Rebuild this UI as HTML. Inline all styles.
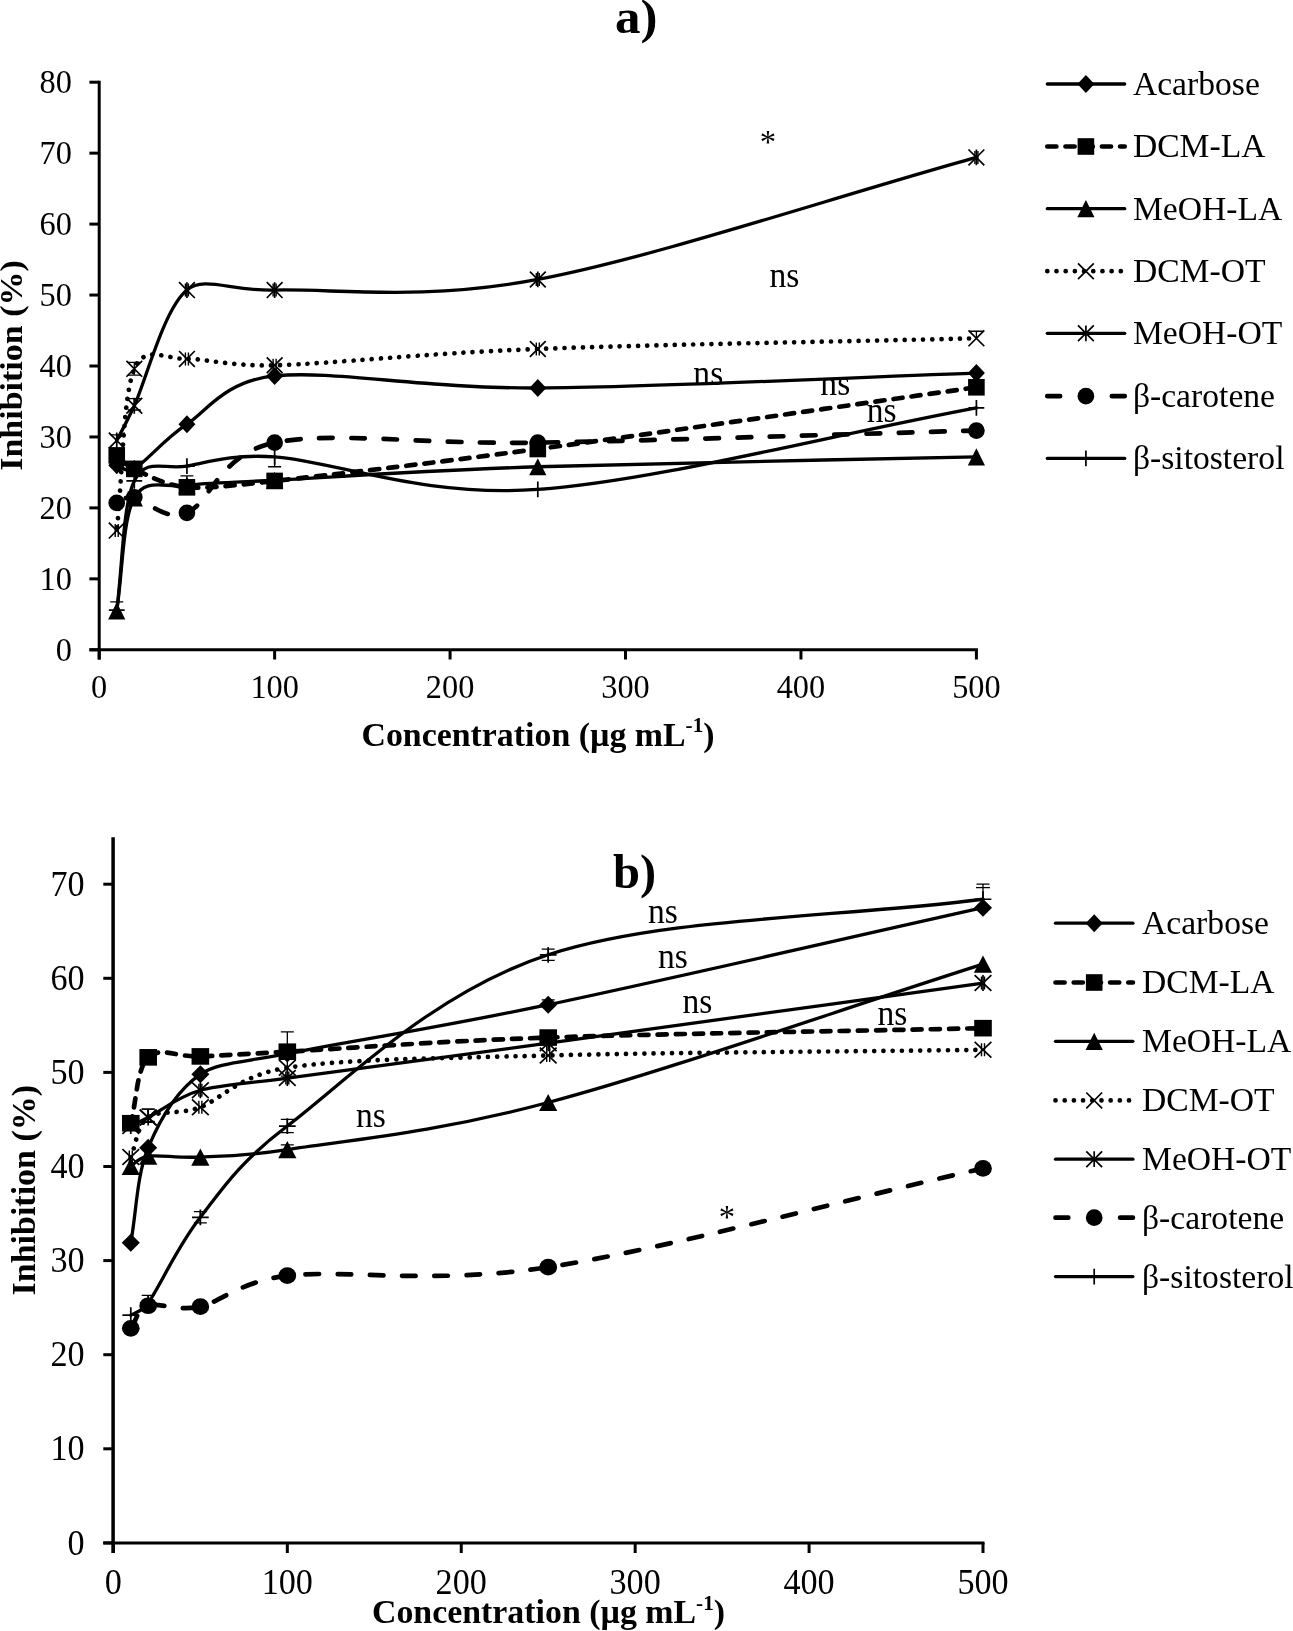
<!DOCTYPE html>
<html><head><meta charset="utf-8"><title>chart</title>
<style>
html,body{margin:0;padding:0;background:#fff;}
svg{will-change:transform;}
body{width:1293px;height:1631px;overflow:hidden;}
svg{display:block;}
text{font-family:"Liberation Serif",serif;fill:#000;}
</style></head><body>
<svg width="1293" height="1631" viewBox="0 0 1293 1631">
<rect width="1293" height="1631" fill="#fff"/>
<path d="M99.20 80.70L99.20 659.50" stroke="#000" stroke-width="3.0"/>
<path d="M89.40 649.80L977.90 649.80" stroke="#000" stroke-width="3.0"/>
<path d="M89.40 649.80L99.20 649.80" stroke="#000" stroke-width="3.0"/>
<text transform="translate(71.90,660.80) scale(0.960,1)" font-size="33.70" text-anchor="end">0</text>
<path d="M89.40 578.85L99.20 578.85" stroke="#000" stroke-width="3.0"/>
<text transform="translate(71.90,589.85) scale(0.960,1)" font-size="33.70" text-anchor="end">10</text>
<path d="M89.40 507.90L99.20 507.90" stroke="#000" stroke-width="3.0"/>
<text transform="translate(71.90,518.90) scale(0.960,1)" font-size="33.70" text-anchor="end">20</text>
<path d="M89.40 436.95L99.20 436.95" stroke="#000" stroke-width="3.0"/>
<text transform="translate(71.90,447.95) scale(0.960,1)" font-size="33.70" text-anchor="end">30</text>
<path d="M89.40 366.00L99.20 366.00" stroke="#000" stroke-width="3.0"/>
<text transform="translate(71.90,377.00) scale(0.960,1)" font-size="33.70" text-anchor="end">40</text>
<path d="M89.40 295.05L99.20 295.05" stroke="#000" stroke-width="3.0"/>
<text transform="translate(71.90,306.05) scale(0.960,1)" font-size="33.70" text-anchor="end">50</text>
<path d="M89.40 224.10L99.20 224.10" stroke="#000" stroke-width="3.0"/>
<text transform="translate(71.90,235.10) scale(0.960,1)" font-size="33.70" text-anchor="end">60</text>
<path d="M89.40 153.15L99.20 153.15" stroke="#000" stroke-width="3.0"/>
<text transform="translate(71.90,164.15) scale(0.960,1)" font-size="33.70" text-anchor="end">70</text>
<path d="M89.40 82.20L99.20 82.20" stroke="#000" stroke-width="3.0"/>
<text transform="translate(71.90,93.20) scale(0.960,1)" font-size="33.70" text-anchor="end">80</text>
<path d="M99.20 649.80L99.20 659.50" stroke="#000" stroke-width="3.0"/>
<text transform="translate(99.20,698.40) scale(0.960,1)" font-size="33.70" text-anchor="middle">0</text>
<path d="M274.64 649.80L274.64 659.50" stroke="#000" stroke-width="3.0"/>
<text transform="translate(274.64,698.40) scale(0.960,1)" font-size="33.70" text-anchor="middle">100</text>
<path d="M450.08 649.80L450.08 659.50" stroke="#000" stroke-width="3.0"/>
<text transform="translate(450.08,698.40) scale(0.960,1)" font-size="33.70" text-anchor="middle">200</text>
<path d="M625.52 649.80L625.52 659.50" stroke="#000" stroke-width="3.0"/>
<text transform="translate(625.52,698.40) scale(0.960,1)" font-size="33.70" text-anchor="middle">300</text>
<path d="M800.96 649.80L800.96 659.50" stroke="#000" stroke-width="3.0"/>
<text transform="translate(800.96,698.40) scale(0.960,1)" font-size="33.70" text-anchor="middle">400</text>
<path d="M976.40 649.80L976.40 659.50" stroke="#000" stroke-width="3.0"/>
<text transform="translate(976.40,698.40) scale(0.960,1)" font-size="33.70" text-anchor="middle">500</text>
<path d="M116.74 465.33 C118.67 465.72 126.57 473.40 134.29 468.88 C145.98 462.02 163.53 439.67 186.92 424.18 C206.84 410.99 224.85 381.07 274.64 375.93 C333.12 369.90 420.84 388.47 537.80 387.99 C654.76 387.52 830.20 378.06 976.40 373.09" fill="none" stroke="#000" stroke-width="3.30" stroke-linecap="round" stroke-linejoin="round"/>
<path d="M116.74 455.40 C119.26 457.33 124.22 464.30 134.29 468.88 C145.98 474.20 163.53 485.31 186.92 487.32 C204.41 488.83 230.92 485.71 274.64 480.94 C333.12 474.55 420.84 464.62 537.80 449.01 C654.76 433.40 830.20 407.86 976.40 387.28" fill="none" stroke="#000" stroke-width="4.70" stroke-linecap="round" stroke-linejoin="round" stroke-dasharray="9.1 9.1" stroke-dashoffset="-8"/>
<path d="M116.74 610.78 C122.59 573.17 122.59 518.90 134.29 497.97 C145.98 477.04 163.53 488.15 186.92 485.20 C204.47 482.98 230.77 482.54 274.64 480.23 C333.12 477.15 420.84 470.65 537.80 466.75 C654.76 462.85 830.20 460.13 976.40 456.82" fill="none" stroke="#000" stroke-width="3.30" stroke-linecap="round" stroke-linejoin="round"/>
<path d="M116.74 530.60 C122.59 476.68 122.59 397.45 134.29 368.84 C144.42 344.05 166.66 359.42 186.92 358.90 C204.50 358.46 230.68 366.53 274.64 365.29 C333.12 363.63 420.84 353.47 537.80 348.97 C654.76 344.48 830.20 341.88 976.40 338.33" fill="none" stroke="#000" stroke-width="4.70" stroke-linecap="round" stroke-linejoin="round" stroke-dasharray="0.01 9.18" stroke-dashoffset="-3.5"/>
<path d="M116.74 440.50 C118.80 436.42 126.06 423.38 134.29 405.73 C145.98 380.66 163.53 309.36 186.92 290.08 C204.46 275.63 230.80 291.41 274.64 290.08 C333.12 288.31 420.84 301.55 537.80 279.44 C654.76 257.33 830.20 198.08 976.40 157.41" fill="none" stroke="#000" stroke-width="3.30" stroke-linecap="round" stroke-linejoin="round"/>
<path d="M116.74 502.93 C119.03 502.20 125.16 495.97 134.29 497.26 C145.98 498.91 163.53 521.97 186.92 512.87 C208.96 504.29 219.54 453.66 274.64 442.63 C333.12 430.92 420.84 444.64 537.80 442.63 C654.76 440.62 830.20 434.58 976.40 430.56" fill="none" stroke="#000" stroke-width="4.70" stroke-linecap="round" stroke-linejoin="round" stroke-dasharray="13.7 18.5" stroke-dashoffset="-10.5"/>
<path d="M116.74 610.07 C122.59 567.02 122.59 504.94 134.29 480.94 C145.98 456.93 163.53 470.06 186.92 466.04 C204.52 463.01 230.64 453.88 274.64 456.82 C333.12 460.72 420.84 497.61 537.80 489.45 C654.76 481.29 830.20 435.06 976.40 407.86" fill="none" stroke="#000" stroke-width="3.30" stroke-linecap="round" stroke-linejoin="round"/>
<path d="M116.74 456.33L125.24 465.33L116.74 474.33L108.24 465.33Z" fill="#000"/>
<path d="M134.29 459.88L142.79 468.88L134.29 477.88L125.79 468.88Z" fill="#000"/>
<path d="M186.92 415.18L195.42 424.18L186.92 433.18L178.42 424.18Z" fill="#000"/>
<path d="M274.64 366.93L283.14 375.93L274.64 384.93L266.14 375.93Z" fill="#000"/>
<path d="M537.80 378.99L546.30 387.99L537.80 396.99L529.30 387.99Z" fill="#000"/>
<path d="M976.40 364.09L984.90 373.09L976.40 382.09L967.90 373.09Z" fill="#000"/>
<path d="M186.92 487.32L186.92 475.97M180.42 475.97L193.42 475.97" stroke="#000" stroke-width="1.3" fill="none"/>
<rect x="108.44" y="447.10" width="16.60" height="16.60" fill="#000"/>
<rect x="125.99" y="460.58" width="16.60" height="16.60" fill="#000"/>
<rect x="178.62" y="479.02" width="16.60" height="16.60" fill="#000"/>
<rect x="266.34" y="472.64" width="16.60" height="16.60" fill="#000"/>
<rect x="529.50" y="440.71" width="16.60" height="16.60" fill="#000"/>
<rect x="968.10" y="378.98" width="16.60" height="16.60" fill="#000"/>
<path d="M116.74 610.78L116.74 601.91M110.24 601.91L123.24 601.91" stroke="#000" stroke-width="1.3" fill="none"/>
<path d="M116.74 602.18L125.34 619.38L108.14 619.38Z" fill="#000"/>
<path d="M134.29 489.37L142.89 506.57L125.69 506.57Z" fill="#000"/>
<path d="M186.92 476.60L195.52 493.80L178.32 493.80Z" fill="#000"/>
<path d="M274.64 471.63L283.24 488.83L266.04 488.83Z" fill="#000"/>
<path d="M537.80 458.15L546.40 475.35L529.20 475.35Z" fill="#000"/>
<path d="M976.40 448.22L985.00 465.42L967.80 465.42Z" fill="#000"/>
<path d="M115.24 524.10L115.24 537.10M118.24 524.10L118.24 537.10" stroke="#000" stroke-width="1.4" fill="none"/>
<path d="M134.29 368.84L134.29 362.45M127.79 362.45L140.79 362.45M134.29 368.84L134.29 375.22M127.79 375.22L140.79 375.22" stroke="#000" stroke-width="1.3" fill="none"/>
<path d="M185.42 352.40L185.42 365.40M188.42 352.40L188.42 365.40" stroke="#000" stroke-width="1.4" fill="none"/>
<path d="M273.14 358.79L273.14 371.79M276.14 358.79L276.14 371.79" stroke="#000" stroke-width="1.4" fill="none"/>
<path d="M536.30 342.47L536.30 355.47M539.30 342.47L539.30 355.47" stroke="#000" stroke-width="1.4" fill="none"/>
<path d="M976.40 338.33L976.40 331.23M969.90 331.23L982.90 331.23" stroke="#000" stroke-width="1.3" fill="none"/>
<path d="M108.84 522.70L124.64 538.50M108.84 538.50L124.64 522.70" stroke="#000" stroke-width="1.7" fill="none"/>
<path d="M126.39 360.94L142.19 376.74M126.39 376.74L142.19 360.94" stroke="#000" stroke-width="1.7" fill="none"/>
<path d="M179.02 351.00L194.82 366.80M179.02 366.80L194.82 351.00" stroke="#000" stroke-width="1.7" fill="none"/>
<path d="M266.74 357.39L282.54 373.19M266.74 373.19L282.54 357.39" stroke="#000" stroke-width="1.7" fill="none"/>
<path d="M529.90 341.07L545.70 356.87M529.90 356.87L545.70 341.07" stroke="#000" stroke-width="1.7" fill="none"/>
<path d="M968.50 330.43L984.30 346.23M968.50 346.23L984.30 330.43" stroke="#000" stroke-width="1.7" fill="none"/>
<path d="M116.74 440.50L116.74 434.82M110.24 434.82L123.24 434.82" stroke="#000" stroke-width="1.3" fill="none"/>
<path d="M134.29 405.73L134.29 398.64M127.79 398.64L140.79 398.64M134.29 405.73L134.29 409.99M127.79 409.99L140.79 409.99" stroke="#000" stroke-width="1.3" fill="none"/>
<path d="M185.42 283.58L185.42 296.58M188.42 283.58L188.42 296.58" stroke="#000" stroke-width="1.4" fill="none"/>
<path d="M273.14 283.58L273.14 296.58M276.14 283.58L276.14 296.58" stroke="#000" stroke-width="1.4" fill="none"/>
<path d="M536.30 272.94L536.30 285.94M539.30 272.94L539.30 285.94" stroke="#000" stroke-width="1.4" fill="none"/>
<path d="M974.90 150.91L974.90 163.91M977.90 150.91L977.90 163.91" stroke="#000" stroke-width="1.4" fill="none"/>
<path d="M108.84 432.60L124.64 448.40M108.84 448.40L124.64 432.60M116.74 432.60L116.74 448.40" stroke="#000" stroke-width="1.7" fill="none"/>
<path d="M126.39 397.83L142.19 413.63M126.39 413.63L142.19 397.83M134.29 397.83L134.29 413.63" stroke="#000" stroke-width="1.7" fill="none"/>
<path d="M179.02 282.18L194.82 297.98M179.02 297.98L194.82 282.18M186.92 282.18L186.92 297.98" stroke="#000" stroke-width="1.7" fill="none"/>
<path d="M266.74 282.18L282.54 297.98M266.74 297.98L282.54 282.18M274.64 282.18L274.64 297.98" stroke="#000" stroke-width="1.7" fill="none"/>
<path d="M529.90 271.54L545.70 287.34M529.90 287.34L545.70 271.54M537.80 271.54L537.80 287.34" stroke="#000" stroke-width="1.7" fill="none"/>
<path d="M968.50 149.51L984.30 165.31M968.50 165.31L984.30 149.51M976.40 149.51L976.40 165.31" stroke="#000" stroke-width="1.7" fill="none"/>
<ellipse cx="116.74" cy="502.93" rx="8.35" ry="8.35" fill="#000"/>
<ellipse cx="134.29" cy="497.26" rx="8.35" ry="8.35" fill="#000"/>
<ellipse cx="186.92" cy="512.87" rx="8.35" ry="8.35" fill="#000"/>
<ellipse cx="274.64" cy="442.63" rx="8.35" ry="8.35" fill="#000"/>
<ellipse cx="537.80" cy="442.63" rx="8.35" ry="8.35" fill="#000"/>
<ellipse cx="976.40" cy="430.56" rx="8.35" ry="8.35" fill="#000"/>
<path d="M274.64 456.82L274.64 466.75M268.14 466.75L281.14 466.75" stroke="#000" stroke-width="1.3" fill="none"/>
<path d="M108.84 610.07L124.64 610.07M116.74 602.17L116.74 617.97" stroke="#000" stroke-width="1.7" fill="none"/>
<path d="M126.39 480.94L142.19 480.94M134.29 473.04L134.29 488.84" stroke="#000" stroke-width="1.7" fill="none"/>
<path d="M179.02 466.04L194.82 466.04M186.92 458.14L186.92 473.94" stroke="#000" stroke-width="1.7" fill="none"/>
<path d="M266.74 456.82L282.54 456.82M274.64 448.92L274.64 464.72" stroke="#000" stroke-width="1.7" fill="none"/>
<path d="M529.90 489.45L545.70 489.45M537.80 481.55L537.80 497.35" stroke="#000" stroke-width="1.7" fill="none"/>
<path d="M968.50 407.86L984.30 407.86M976.40 399.96L976.40 415.76" stroke="#000" stroke-width="1.7" fill="none"/>
<text transform="translate(636.20,33.30) scale(1.040,1)" font-size="49.00" text-anchor="middle" font-weight="bold">a)</text>
<text transform="translate(538.00,745.80) scale(1.008,1)" font-size="33.60" text-anchor="middle" font-weight="bold">Concentration (µg mL<tspan font-size="21" dy="-13.5">-1</tspan><tspan dy="13.5">)</tspan></text>
<text transform="translate(22.3,365.5) rotate(-90) scale(0.985,0.905)" font-size="34.5" font-weight="bold" text-anchor="middle">Inhibition (%)</text>
<path d="M1047.30 84.00L1124.70 84.00" stroke="#000" stroke-width="3.30" stroke-linecap="round"/>
<path d="M1085.90 75.00L1094.40 84.00L1085.90 93.00L1077.40 84.00Z" fill="#000"/>
<text transform="translate(1132.90,94.90) scale(0.986,1)" font-size="34.10" text-anchor="start">Acarbose</text>
<path d="M1047.30 146.50L1124.70 146.50" stroke="#000" stroke-width="4.70" stroke-linecap="round" stroke-dasharray="9.1 9.1"/>
<rect x="1077.60" y="138.20" width="16.60" height="16.60" fill="#000"/>
<text transform="translate(1132.90,157.40) scale(0.986,1)" font-size="34.10" text-anchor="start">DCM-LA</text>
<path d="M1047.30 208.70L1124.70 208.70" stroke="#000" stroke-width="3.30" stroke-linecap="round"/>
<path d="M1085.90 200.10L1094.50 217.30L1077.30 217.30Z" fill="#000"/>
<text transform="translate(1132.90,219.60) scale(0.986,1)" font-size="34.10" text-anchor="start">MeOH-LA</text>
<path d="M1047.30 271.20L1124.70 271.20" stroke="#000" stroke-width="4.70" stroke-linecap="round" stroke-dasharray="0.01 9.18"/>
<path d="M1078.00 263.30L1093.80 279.10M1078.00 279.10L1093.80 263.30" stroke="#000" stroke-width="1.7" fill="none"/>
<text transform="translate(1132.90,282.10) scale(0.986,1)" font-size="34.10" text-anchor="start">DCM-OT</text>
<path d="M1047.30 333.30L1124.70 333.30" stroke="#000" stroke-width="3.30" stroke-linecap="round"/>
<path d="M1078.00 325.40L1093.80 341.20M1078.00 341.20L1093.80 325.40M1085.90 325.40L1085.90 341.20" stroke="#000" stroke-width="1.7" fill="none"/>
<text transform="translate(1132.90,344.20) scale(0.986,1)" font-size="34.10" text-anchor="start">MeOH-OT</text>
<path d="M1047.30 396.20L1060.10 396.20M1111.90 396.20L1124.70 396.20" stroke="#000" stroke-width="4.70" stroke-linecap="round"/>
<ellipse cx="1085.90" cy="396.20" rx="8.35" ry="8.35" fill="#000"/>
<text transform="translate(1132.90,407.10) scale(0.986,1)" font-size="34.10" text-anchor="start">β-carotene</text>
<path d="M1047.30 458.40L1124.70 458.40" stroke="#000" stroke-width="3.30" stroke-linecap="round"/>
<path d="M1078.00 458.40L1093.80 458.40M1085.90 450.50L1085.90 466.30" stroke="#000" stroke-width="1.7" fill="none"/>
<text transform="translate(1132.90,469.30) scale(0.986,1)" font-size="34.10" text-anchor="start">β-sitosterol</text>
<text transform="translate(784.50,286.60) scale(0.960,1)" font-size="35.00" text-anchor="middle">ns</text>
<text transform="translate(708.30,385.20) scale(0.960,1)" font-size="35.00" text-anchor="middle">ns</text>
<text transform="translate(835.30,395.20) scale(0.960,1)" font-size="35.00" text-anchor="middle">ns</text>
<text transform="translate(881.70,421.80) scale(0.960,1)" font-size="35.00" text-anchor="middle">ns</text>
<text transform="translate(767.80,152.50) scale(0.960,1)" font-size="34.00" text-anchor="middle">*</text>
<path d="M113.10 837.15L113.10 1553.00" stroke="#000" stroke-width="3.5"/>
<path d="M103.30 1542.90L984.50 1542.90" stroke="#000" stroke-width="3.0"/>
<path d="M103.30 1542.90L113.40 1542.90" stroke="#000" stroke-width="3.0"/>
<text transform="translate(84.60,1554.50) scale(0.960,1)" font-size="35.60" text-anchor="end">0</text>
<path d="M103.30 1448.80L113.40 1448.80" stroke="#000" stroke-width="3.0"/>
<text transform="translate(84.60,1460.40) scale(0.960,1)" font-size="35.60" text-anchor="end">10</text>
<path d="M103.30 1354.70L113.40 1354.70" stroke="#000" stroke-width="3.0"/>
<text transform="translate(84.60,1366.30) scale(0.960,1)" font-size="35.60" text-anchor="end">20</text>
<path d="M103.30 1260.60L113.40 1260.60" stroke="#000" stroke-width="3.0"/>
<text transform="translate(84.60,1272.20) scale(0.960,1)" font-size="35.60" text-anchor="end">30</text>
<path d="M103.30 1166.50L113.40 1166.50" stroke="#000" stroke-width="3.0"/>
<text transform="translate(84.60,1178.10) scale(0.960,1)" font-size="35.60" text-anchor="end">40</text>
<path d="M103.30 1072.40L113.40 1072.40" stroke="#000" stroke-width="3.0"/>
<text transform="translate(84.60,1084.00) scale(0.960,1)" font-size="35.60" text-anchor="end">50</text>
<path d="M103.30 978.30L113.40 978.30" stroke="#000" stroke-width="3.0"/>
<text transform="translate(84.60,989.90) scale(0.960,1)" font-size="35.60" text-anchor="end">60</text>
<path d="M103.30 884.20L113.40 884.20" stroke="#000" stroke-width="3.0"/>
<text transform="translate(84.60,895.80) scale(0.960,1)" font-size="35.60" text-anchor="end">70</text>
<path d="M113.40 1542.90L113.40 1553.00" stroke="#000" stroke-width="3.0"/>
<text transform="translate(113.40,1593.50) scale(0.960,1)" font-size="35.60" text-anchor="middle">0</text>
<path d="M287.32 1542.90L287.32 1553.00" stroke="#000" stroke-width="3.0"/>
<text transform="translate(287.32,1593.50) scale(0.960,1)" font-size="35.60" text-anchor="middle">100</text>
<path d="M461.24 1542.90L461.24 1553.00" stroke="#000" stroke-width="3.0"/>
<text transform="translate(461.24,1593.50) scale(0.960,1)" font-size="35.60" text-anchor="middle">200</text>
<path d="M635.16 1542.90L635.16 1553.00" stroke="#000" stroke-width="3.0"/>
<text transform="translate(635.16,1593.50) scale(0.960,1)" font-size="35.60" text-anchor="middle">300</text>
<path d="M809.08 1542.90L809.08 1553.00" stroke="#000" stroke-width="3.0"/>
<text transform="translate(809.08,1593.50) scale(0.960,1)" font-size="35.60" text-anchor="middle">400</text>
<path d="M983.00 1542.90L983.00 1553.00" stroke="#000" stroke-width="3.0"/>
<text transform="translate(983.00,1593.50) scale(0.960,1)" font-size="35.60" text-anchor="middle">500</text>
<path d="M130.79 1242.72 C136.59 1211.04 136.59 1175.75 148.18 1147.68 C159.78 1119.61 177.17 1089.97 200.36 1074.28 C217.89 1062.43 243.49 1062.35 287.32 1053.58 C345.29 1041.97 432.25 1028.96 548.20 1004.65 C664.15 980.34 838.07 940.03 983.00 907.73" fill="none" stroke="#000" stroke-width="3.30" stroke-linecap="round" stroke-linejoin="round"/>
<path d="M130.79 1123.21 C136.59 1101.26 136.59 1068.48 148.18 1057.34 C159.78 1046.21 177.17 1057.34 200.36 1056.40 C217.75 1055.70 243.84 1054.05 287.32 1051.70 C345.29 1048.56 432.25 1041.50 548.20 1037.58 C664.15 1033.66 838.07 1031.31 983.00 1028.17" fill="none" stroke="#000" stroke-width="4.70" stroke-linecap="round" stroke-linejoin="round" stroke-dasharray="9.1 9.1" stroke-dashoffset="2"/>
<path d="M130.79 1166.50 C133.30 1165.01 138.16 1157.51 148.18 1156.15 C159.78 1154.58 177.17 1158.19 200.36 1157.09 C217.61 1156.27 244.20 1156.33 287.32 1149.56 C345.29 1140.47 432.25 1133.41 548.20 1102.51 C664.15 1071.62 838.07 1010.29 983.00 964.19" fill="none" stroke="#000" stroke-width="3.30" stroke-linecap="round" stroke-linejoin="round"/>
<path d="M130.79 1157.09 C136.59 1143.92 136.59 1125.88 148.18 1117.57 C159.78 1109.26 177.17 1115.53 200.36 1107.22 C219.26 1100.44 240.08 1074.72 287.32 1067.70 C345.29 1059.07 432.25 1058.44 548.20 1055.46 C664.15 1052.48 838.07 1051.70 983.00 1049.82" fill="none" stroke="#000" stroke-width="4.70" stroke-linecap="round" stroke-linejoin="round" stroke-dasharray="0.01 9.18" stroke-dashoffset="0"/>
<path d="M130.79 1126.04 C132.94 1124.99 139.58 1121.99 148.18 1117.57 C159.78 1111.61 177.17 1096.87 200.36 1090.28 C217.76 1085.34 243.81 1083.93 287.32 1078.05 C345.29 1070.20 432.25 1059.07 548.20 1043.23 C664.15 1027.39 838.07 1003.08 983.00 983.01" fill="none" stroke="#000" stroke-width="3.30" stroke-linecap="round" stroke-linejoin="round"/>
<path d="M130.79 1328.35 C136.59 1320.82 136.59 1309.38 148.18 1305.77 C159.78 1302.16 177.17 1311.73 200.36 1306.71 C218.71 1302.74 241.45 1280.87 287.32 1275.66 C345.29 1269.07 432.25 1285.07 548.20 1267.19 C664.15 1249.31 838.07 1201.32 983.00 1168.38" fill="none" stroke="#000" stroke-width="4.70" stroke-linecap="round" stroke-linejoin="round" stroke-dasharray="13.7 18.5" stroke-dashoffset="0"/>
<path d="M130.79 1315.18 C132.33 1314.09 142.02 1311.61 148.18 1302.95 C159.78 1286.63 177.17 1246.80 200.36 1217.31 C220.48 1191.73 237.01 1164.01 287.32 1126.04 C345.29 1082.28 432.25 992.57 548.20 954.78 C664.15 916.98 838.07 917.76 983.00 899.26" fill="none" stroke="#000" stroke-width="3.30" stroke-linecap="round" stroke-linejoin="round"/>
<path d="M548.20 1004.65L548.20 999.94M541.70 999.94L554.70 999.94" stroke="#000" stroke-width="1.3" fill="none"/>
<path d="M130.79 1233.72L139.80 1242.72L130.79 1251.72L121.78 1242.72Z" fill="#000"/>
<path d="M148.18 1138.68L157.19 1147.68L148.18 1156.68L139.17 1147.68Z" fill="#000"/>
<path d="M200.36 1065.28L209.37 1074.28L200.36 1083.28L191.35 1074.28Z" fill="#000"/>
<path d="M287.32 1044.58L296.33 1053.58L287.32 1062.58L278.31 1053.58Z" fill="#000"/>
<path d="M548.20 995.65L557.21 1004.65L548.20 1013.65L539.19 1004.65Z" fill="#000"/>
<path d="M983.00 898.73L992.01 907.73L983.00 916.73L973.99 907.73Z" fill="#000"/>
<path d="M287.32 1051.70L287.32 1031.94M280.82 1031.94L293.82 1031.94" stroke="#000" stroke-width="1.3" fill="none"/>
<rect x="121.99" y="1114.91" width="17.60" height="16.60" fill="#000"/>
<rect x="139.39" y="1049.04" width="17.60" height="16.60" fill="#000"/>
<rect x="191.56" y="1048.10" width="17.60" height="16.60" fill="#000"/>
<rect x="278.52" y="1043.40" width="17.60" height="16.60" fill="#000"/>
<rect x="539.40" y="1029.28" width="17.60" height="16.60" fill="#000"/>
<rect x="974.20" y="1019.87" width="17.60" height="16.60" fill="#000"/>
<path d="M287.32 1149.56L287.32 1144.86M280.82 1144.86L293.82 1144.86" stroke="#000" stroke-width="1.3" fill="none"/>
<path d="M130.79 1157.90L139.91 1175.10L121.68 1175.10Z" fill="#000"/>
<path d="M148.18 1147.55L157.30 1164.75L139.07 1164.75Z" fill="#000"/>
<path d="M200.36 1148.49L209.48 1165.69L191.24 1165.69Z" fill="#000"/>
<path d="M287.32 1140.96L296.44 1158.16L278.20 1158.16Z" fill="#000"/>
<path d="M548.20 1093.91L557.32 1111.11L539.08 1111.11Z" fill="#000"/>
<path d="M983.00 955.59L992.12 972.79L973.88 972.79Z" fill="#000"/>
<path d="M129.29 1150.59L129.29 1163.59M132.29 1150.59L132.29 1163.59" stroke="#000" stroke-width="1.4" fill="none"/>
<path d="M148.18 1117.57L148.18 1109.10M141.68 1109.10L154.68 1109.10M148.18 1117.57L148.18 1122.27M141.68 1122.27L154.68 1122.27" stroke="#000" stroke-width="1.3" fill="none"/>
<path d="M198.86 1100.72L198.86 1113.72M201.86 1100.72L201.86 1113.72" stroke="#000" stroke-width="1.4" fill="none"/>
<path d="M287.32 1067.70L287.32 1059.23M280.82 1059.23L293.82 1059.23M287.32 1067.70L287.32 1076.16M280.82 1076.16L293.82 1076.16" stroke="#000" stroke-width="1.3" fill="none"/>
<path d="M546.70 1048.96L546.70 1061.96M549.70 1048.96L549.70 1061.96" stroke="#000" stroke-width="1.4" fill="none"/>
<path d="M981.50 1043.32L981.50 1056.32M984.50 1043.32L984.50 1056.32" stroke="#000" stroke-width="1.4" fill="none"/>
<path d="M122.42 1149.19L139.17 1164.99M122.42 1164.99L139.17 1149.19" stroke="#000" stroke-width="1.7" fill="none"/>
<path d="M139.81 1109.67L156.56 1125.47M139.81 1125.47L156.56 1109.67" stroke="#000" stroke-width="1.7" fill="none"/>
<path d="M191.99 1099.32L208.73 1115.12M191.99 1115.12L208.73 1099.32" stroke="#000" stroke-width="1.7" fill="none"/>
<path d="M278.95 1059.80L295.69 1075.60M278.95 1075.60L295.69 1059.80" stroke="#000" stroke-width="1.7" fill="none"/>
<path d="M539.83 1047.56L556.57 1063.36M539.83 1063.36L556.57 1047.56" stroke="#000" stroke-width="1.7" fill="none"/>
<path d="M974.63 1041.92L991.37 1057.72M974.63 1057.72L991.37 1041.92" stroke="#000" stroke-width="1.7" fill="none"/>
<path d="M148.18 1117.57L148.18 1109.10M141.68 1109.10L154.68 1109.10M148.18 1117.57L148.18 1121.33M141.68 1121.33L154.68 1121.33" stroke="#000" stroke-width="1.3" fill="none"/>
<path d="M198.86 1083.78L198.86 1096.78M201.86 1083.78L201.86 1096.78" stroke="#000" stroke-width="1.4" fill="none"/>
<path d="M285.82 1071.55L285.82 1084.55M288.82 1071.55L288.82 1084.55" stroke="#000" stroke-width="1.4" fill="none"/>
<path d="M546.70 1036.73L546.70 1049.73M549.70 1036.73L549.70 1049.73" stroke="#000" stroke-width="1.4" fill="none"/>
<path d="M981.50 976.51L981.50 989.51M984.50 976.51L984.50 989.51" stroke="#000" stroke-width="1.4" fill="none"/>
<path d="M122.42 1118.14L139.17 1133.94M122.42 1133.94L139.17 1118.14M130.79 1118.14L130.79 1133.94" stroke="#000" stroke-width="1.7" fill="none"/>
<path d="M139.81 1109.67L156.56 1125.47M139.81 1125.47L156.56 1109.67M148.18 1109.67L148.18 1125.47" stroke="#000" stroke-width="1.7" fill="none"/>
<path d="M191.99 1082.38L208.73 1098.18M191.99 1098.18L208.73 1082.38M200.36 1082.38L200.36 1098.18" stroke="#000" stroke-width="1.7" fill="none"/>
<path d="M278.95 1070.15L295.69 1085.95M278.95 1085.95L295.69 1070.15M287.32 1070.15L287.32 1085.95" stroke="#000" stroke-width="1.7" fill="none"/>
<path d="M539.83 1035.33L556.57 1051.13M539.83 1051.13L556.57 1035.33M548.20 1035.33L548.20 1051.13" stroke="#000" stroke-width="1.7" fill="none"/>
<path d="M974.63 975.11L991.37 990.91M974.63 990.91L991.37 975.11M983.00 975.11L983.00 990.91" stroke="#000" stroke-width="1.7" fill="none"/>
<ellipse cx="130.79" cy="1328.35" rx="8.85" ry="8.35" fill="#000"/>
<ellipse cx="148.18" cy="1305.77" rx="8.85" ry="8.35" fill="#000"/>
<ellipse cx="200.36" cy="1306.71" rx="8.85" ry="8.35" fill="#000"/>
<ellipse cx="287.32" cy="1275.66" rx="8.85" ry="8.35" fill="#000"/>
<ellipse cx="548.20" cy="1267.19" rx="8.85" ry="8.35" fill="#000"/>
<ellipse cx="983.00" cy="1168.38" rx="8.85" ry="8.35" fill="#000"/>
<path d="M148.18 1302.95L148.18 1295.42M141.68 1295.42L154.68 1295.42" stroke="#000" stroke-width="1.3" fill="none"/>
<path d="M200.36 1217.31L200.36 1211.67M193.86 1211.67L206.86 1211.67M200.36 1217.31L200.36 1222.96M193.86 1222.96L206.86 1222.96" stroke="#000" stroke-width="1.3" fill="none"/>
<path d="M287.32 1126.04L287.32 1119.45M280.82 1119.45L293.82 1119.45M287.32 1126.04L287.32 1132.62M280.82 1132.62L293.82 1132.62" stroke="#000" stroke-width="1.3" fill="none"/>
<path d="M548.20 954.78L548.20 949.13M541.70 949.13L554.70 949.13M548.20 954.78L548.20 960.42M541.70 960.42L554.70 960.42" stroke="#000" stroke-width="1.3" fill="none"/>
<path d="M983.00 899.26L983.00 884.20M976.50 884.20L989.50 884.20" stroke="#000" stroke-width="1.3" fill="none"/>
<path d="M122.42 1315.18L139.17 1315.18M130.79 1307.28L130.79 1323.08" stroke="#000" stroke-width="1.7" fill="none"/>
<path d="M139.81 1302.95L156.56 1302.95M148.18 1295.05L148.18 1310.85" stroke="#000" stroke-width="1.7" fill="none"/>
<path d="M191.99 1217.31L208.73 1217.31M200.36 1209.41L200.36 1225.21" stroke="#000" stroke-width="1.7" fill="none"/>
<path d="M278.95 1126.04L295.69 1126.04M287.32 1118.14L287.32 1133.94" stroke="#000" stroke-width="1.7" fill="none"/>
<path d="M539.83 954.78L556.57 954.78M548.20 946.88L548.20 962.68" stroke="#000" stroke-width="1.7" fill="none"/>
<path d="M974.63 899.26L991.37 899.26M983.00 891.36L983.00 907.16" stroke="#000" stroke-width="1.7" fill="none"/>
<path d="M976.00 887.60L990.00 887.60" stroke="#000" stroke-width="1.3"/>
<text transform="translate(634.60,888.00) scale(0.994,1)" font-size="48.80" text-anchor="middle" font-weight="bold">b)</text>
<text transform="translate(548.50,1623.40) scale(1.008,1)" font-size="33.60" text-anchor="middle" font-weight="bold">Concentration (µg mL<tspan font-size="21" dy="-13.5">-1</tspan><tspan dy="13.5">)</tspan></text>
<text transform="translate(34.9,1190.2) rotate(-90) scale(0.985,0.98)" font-size="34.5" font-weight="bold" text-anchor="middle">Inhibition (%)</text>
<path d="M1055.50 923.20L1132.90 923.20" stroke="#000" stroke-width="3.30" stroke-linecap="round"/>
<path d="M1094.20 914.20L1102.70 923.20L1094.20 932.20L1085.70 923.20Z" fill="#000"/>
<text transform="translate(1142.00,934.10) scale(0.986,1)" font-size="34.10" text-anchor="start">Acarbose</text>
<path d="M1055.50 982.50L1132.90 982.50" stroke="#000" stroke-width="4.70" stroke-linecap="round" stroke-dasharray="9.1 9.1"/>
<rect x="1085.90" y="974.20" width="16.60" height="16.60" fill="#000"/>
<text transform="translate(1142.00,993.40) scale(0.986,1)" font-size="34.10" text-anchor="start">DCM-LA</text>
<path d="M1055.50 1041.30L1132.90 1041.30" stroke="#000" stroke-width="3.30" stroke-linecap="round"/>
<path d="M1094.20 1032.70L1102.80 1049.90L1085.60 1049.90Z" fill="#000"/>
<text transform="translate(1142.00,1052.20) scale(0.986,1)" font-size="34.10" text-anchor="start">MeOH-LA</text>
<path d="M1055.50 1100.40L1132.90 1100.40" stroke="#000" stroke-width="4.70" stroke-linecap="round" stroke-dasharray="0.01 9.18"/>
<path d="M1086.30 1092.50L1102.10 1108.30M1086.30 1108.30L1102.10 1092.50" stroke="#000" stroke-width="1.7" fill="none"/>
<text transform="translate(1142.00,1111.30) scale(0.986,1)" font-size="34.10" text-anchor="start">DCM-OT</text>
<path d="M1055.50 1159.20L1132.90 1159.20" stroke="#000" stroke-width="3.30" stroke-linecap="round"/>
<path d="M1086.30 1151.30L1102.10 1167.10M1086.30 1167.10L1102.10 1151.30M1094.20 1151.30L1094.20 1167.10" stroke="#000" stroke-width="1.7" fill="none"/>
<text transform="translate(1142.00,1170.10) scale(0.986,1)" font-size="34.10" text-anchor="start">MeOH-OT</text>
<path d="M1055.50 1217.70L1068.30 1217.70M1120.10 1217.70L1132.90 1217.70" stroke="#000" stroke-width="4.70" stroke-linecap="round"/>
<ellipse cx="1094.20" cy="1217.70" rx="8.35" ry="8.35" fill="#000"/>
<text transform="translate(1142.00,1228.60) scale(0.986,1)" font-size="34.10" text-anchor="start">β-carotene</text>
<path d="M1055.50 1276.60L1132.90 1276.60" stroke="#000" stroke-width="3.30" stroke-linecap="round"/>
<path d="M1086.30 1276.60L1102.10 1276.60M1094.20 1268.70L1094.20 1284.50" stroke="#000" stroke-width="1.7" fill="none"/>
<text transform="translate(1142.00,1287.50) scale(0.986,1)" font-size="34.10" text-anchor="start">β-sitosterol</text>
<text transform="translate(663.00,922.60) scale(0.960,1)" font-size="35.00" text-anchor="middle">ns</text>
<text transform="translate(673.00,967.60) scale(0.960,1)" font-size="35.00" text-anchor="middle">ns</text>
<text transform="translate(697.50,1012.60) scale(0.960,1)" font-size="35.00" text-anchor="middle">ns</text>
<text transform="translate(892.40,1025.40) scale(0.960,1)" font-size="35.00" text-anchor="middle">ns</text>
<text transform="translate(371.00,1127.00) scale(0.960,1)" font-size="35.00" text-anchor="middle">ns</text>
<text transform="translate(727.00,1228.00) scale(0.960,1)" font-size="34.00" text-anchor="middle">*</text>
</svg>
</body></html>
